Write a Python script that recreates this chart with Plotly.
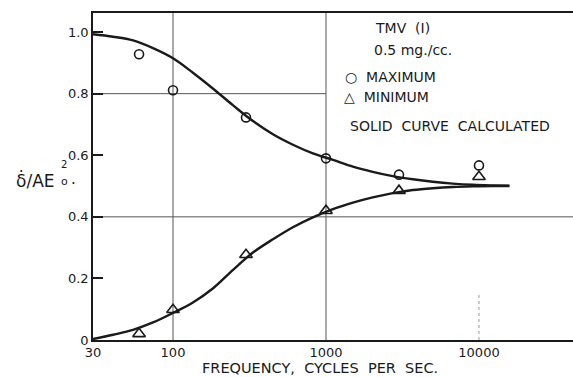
import plotly.graph_objects as go

# Measured points
freq_pts = [60, 100, 300, 1000, 3000, 10000]
max_vals = [0.928, 0.811, 0.723, 0.59, 0.537, 0.567]
min_vals = [0.02, 0.098, 0.277, 0.42, 0.485, 0.53]

# Calculated curves
curve_f = [30, 40.6, 54.8, 74, 100, 135, 183, 247, 333, 450, 608, 821,
           1110, 1500, 2020, 2730, 3690, 4990, 6740, 9100, 12300, 15800]
upper_v = [0.993, 0.985, 0.973, 0.948, 0.915, 0.868, 0.816, 0.762, 0.711, 0.668, 0.634, 0.606,
           0.585, 0.563, 0.546, 0.532, 0.522, 0.514, 0.508, 0.504, 0.502, 0.501]
lower_v = [0.003, 0.017, 0.033, 0.057, 0.088, 0.122, 0.168, 0.228, 0.284, 0.327, 0.366, 0.398,
           0.425, 0.446, 0.463, 0.477, 0.487, 0.493, 0.497, 0.499, 0.5, 0.5]

x_ticks = [30, 100, 1000, 10000]
x_ticktext = ["30", "100", "1000", "10000"]
y_ticks = [0, 0.2, 0.4, 0.6, 0.8, 1.0]
y_ticktext = ["0", "0.2", "0.4", "0.6", "0.8", "1.0"]

FONT = "DejaVu Sans"
INK = "#1a1a1a"
W, H = 573, 377
L, R, T, B = 93, 573, 13, 340

def px(x):
    return (x - L) / (R - L)

def py(y):
    return (B - y) / (B - T)

fig = go.Figure()

grid = dict(color="#555555", width=1)
# gridlines
fig.add_trace(go.Scatter(x=[100, 100], y=[0, 1.062], mode="lines", line=grid, hoverinfo="skip", showlegend=False))
fig.add_trace(go.Scatter(x=[1000, 1000], y=[0, 1.062], mode="lines", line=grid, hoverinfo="skip", showlegend=False))
fig.add_trace(go.Scatter(x=[10000, 10000], y=[0, 0.15], mode="lines", line=dict(color="#999999", width=1, dash="dot"), hoverinfo="skip", showlegend=False))
fig.add_trace(go.Scatter(x=[30, 1000], y=[0.8, 0.8], mode="lines", line=grid, hoverinfo="skip", showlegend=False))
fig.add_trace(go.Scatter(x=[30, 45000], y=[0.4, 0.4], mode="lines", line=grid, hoverinfo="skip", showlegend=False))

# curves
fig.add_trace(go.Scatter(x=curve_f, y=upper_v, mode="lines", line=dict(color=INK, width=2.4, shape="spline", smoothing=1.0), showlegend=False))
fig.add_trace(go.Scatter(x=curve_f, y=lower_v, mode="lines", line=dict(color=INK, width=2.4, shape="spline", smoothing=1.0), showlegend=False))

# points
fig.add_trace(go.Scatter(x=freq_pts, y=max_vals, mode="markers",
                         marker=dict(symbol="circle-open", size=9, color=INK, line=dict(width=1.6)), showlegend=False))
fig.add_trace(go.Scatter(x=freq_pts, y=min_vals, mode="markers",
                         marker=dict(symbol="triangle-up-open", size=11, color=INK, line=dict(width=1.6)), showlegend=False))

fig.update_xaxes(type="log", range=[1.4771, 4.6145], tickvals=x_ticks, ticktext=x_ticktext,
                 showgrid=False, zeroline=False, showline=True, mirror=True, linecolor=INK, linewidth=1.5,
                 ticks="", tickfont=dict(family=FONT, size=13, color=INK))
fig.update_yaxes(range=[0, 1.062], tickvals=y_ticks, ticktext=y_ticktext,
                 showgrid=False, zeroline=False, showline=True, linecolor=INK, linewidth=1.5,
                 ticks="inside", ticklen=10, tickwidth=1.5, tickcolor=INK,
                 tickfont=dict(family=FONT, size=13, color=INK))

ann_font = dict(family=FONT, size=14, color=INK)
annotations = [
    dict(text="TMV  (I)", x=px(373), y=py(28), xanchor="left"),
    dict(text="0.5 mg./cc.", x=px(372), y=py(50), xanchor="left"),
    dict(text="○  MAXIMUM", x=px(343), y=py(77), xanchor="left"),
    dict(text="△  MINIMUM", x=px(342), y=py(97), xanchor="left"),
    dict(text="SOLID  CURVE  CALCULATED", x=px(348), y=py(126), xanchor="left"),
    dict(text="FREQUENCY,  CYCLES  PER  SEC.", x=px(320), y=py(368), xanchor="center",
         font=dict(family=FONT, size=14.5, color=INK)),
    dict(text="δ̇/AE", x=px(14), y=py(180), xanchor="left", font=dict(family=FONT, size=17, color=INK)),
    dict(text="2", x=px(59), y=py(164), xanchor="left", font=dict(family=FONT, size=10, color=INK)),
    dict(text="o", x=px(59), y=py(182), xanchor="left", font=dict(family=FONT, size=11, color=INK)),
    dict(text=".", x=px(69), y=py(179), xanchor="left", font=dict(family=FONT, size=15, color=INK)),
]
for a in annotations:
    a.setdefault("font", ann_font)
    a.update(xref="paper", yref="paper", yanchor="middle", showarrow=False)

fig.update_layout(width=W, height=H, margin=dict(l=L, r=W - R, t=T, b=H - B),
                  paper_bgcolor="white", plot_bgcolor="white", annotations=annotations,
                  showlegend=False)

fig.write_html("out.html")
